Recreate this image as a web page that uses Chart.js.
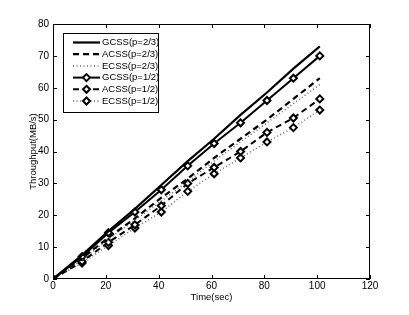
<!DOCTYPE html>
<html>
<head>
<meta charset="utf-8">
<script src="https://cdn.jsdelivr.net/npm/chart.js@4/dist/chart.umd.min.js"></script>
<style>
  html, body { margin: 0; padding: 0; background: #fff; }
  #wrap { width: 409px; height: 315px; }
</style>
</head>
<body>
<div id="wrap"><canvas id="chart" width="409" height="315"></canvas></div>
<script>
// Sample times (sec)
const times = [0, 11, 21, 31, 41, 51, 61, 71, 81, 91, 101];

// Throughput (MB/s) per scheme
const gcss23 = [0, 7.5, 15, 22, 29.5, 37, 44, 51.5, 58.5, 66, 73];
const acss23 = [0, 6.5, 13, 19, 25.5, 31.5, 38, 44, 50, 56.5, 63];
const ecss23 = [0, 6, 12.5, 18.5, 24.5, 30.5, 37, 43, 49, 55, 61];
const gcss12 = [0, 7, 14.5, 21, 28, 35.5, 42.5, 49, 56, 63, 70];
const acss12 = [0, 5.5, 11.5, 17, 23, 30, 35, 40, 46, 50.5, 56.5];
const ecss12 = [0, 5, 10.5, 16, 21, 27.5, 33, 38, 43, 47.5, 53];

const labels = ['GCSS(p=2/3)', 'ACSS(p=2/3)', 'ECSS(p=2/3)', 'GCSS(p=1/2)', 'ACSS(p=1/2)', 'ECSS(p=1/2)'];

const FONT = 'Liberation Sans, Arial, Helvetica, sans-serif';

function toPoints(values) {
    return values.map((v, i) => ({ x: times[i], y: v }));
}

const SOLID = [];
const DASHED = [6, 4];
const DOTTED = [1, 2.5];

function makeSet(label, values, dash, width, color, marker) {
    return {
        label: label,
        data: toPoints(values),
        borderColor: color,
        borderWidth: width,
        borderDash: dash,
        pointStyle: 'rectRot',
        pointRadius: marker ? 3.5 : 0,
        pointBackgroundColor: '#fff',
        pointBorderColor: '#000',
        pointBorderWidth: 2,
        tension: 0,
        fill: false
    };
}

const datasets = [
    makeSet(labels[0], gcss23, SOLID, 2.2, '#000', false),
    makeSet(labels[1], acss23, DASHED, 2.2, '#000', false),
    makeSet(labels[2], ecss23, DOTTED, 1.5, '#666', false),
    makeSet(labels[3], gcss12, SOLID, 2, '#000', true),
    makeSet(labels[4], acss12, DASHED, 2, '#000', true),
    makeSet(labels[5], ecss12, DOTTED, 1.5, '#666', true)
];

// Box with inward ticks on all four sides (MATLAB style)
const frame = {
    id: 'frame',
    afterDraw(chart) {
        const { ctx, chartArea: a, scales } = chart;
        ctx.save();
        ctx.strokeStyle = '#000';
        ctx.lineWidth = 1;
        ctx.setLineDash([]);
        ctx.strokeRect(a.left + 0.5, a.top + 0.5, a.right - a.left - 1, a.bottom - a.top - 1);
        const len = 4;
        ctx.beginPath();
        scales.x.ticks.forEach(t => {
            const px = Math.round(scales.x.getPixelForValue(t.value)) + 0.5;
            ctx.moveTo(px, a.bottom); ctx.lineTo(px, a.bottom - len);
            ctx.moveTo(px, a.top); ctx.lineTo(px, a.top + len);
        });
        scales.y.ticks.forEach(t => {
            const py = Math.round(scales.y.getPixelForValue(t.value)) + 0.5;
            ctx.moveTo(a.left, py); ctx.lineTo(a.left + len, py);
            ctx.moveTo(a.right, py); ctx.lineTo(a.right - len, py);
        });
        ctx.stroke();
        ctx.restore();
    }
};

// Legend box in the upper left of the plot
const boxLegend = {
    id: 'boxLegend',
    afterDraw(chart) {
        const { ctx, chartArea: a } = chart;
        const x0 = a.left + 10, y0 = a.top + 9;
        const w = 95, rowH = 11.7, h = 79;
        ctx.save();
        ctx.fillStyle = '#fff';
        ctx.fillRect(x0, y0, w, h);
        ctx.strokeStyle = '#000';
        ctx.lineWidth = 1;
        ctx.setLineDash([]);
        ctx.strokeRect(x0 + 0.5, y0 + 0.5, w, h);
        chart.data.datasets.forEach((ds, i) => {
            const cy = y0 + 9.5 + i * rowH;
            const lx1 = x0 + 10, lx2 = x0 + 37;
            ctx.strokeStyle = ds.borderColor;
            ctx.lineWidth = ds.borderWidth;
            ctx.setLineDash(ds.borderDash);
            ctx.beginPath();
            ctx.moveTo(lx1, cy); ctx.lineTo(lx2, cy);
            ctx.stroke();
            if (ds.pointRadius > 0) {
                ctx.setLineDash([]);
                ctx.lineWidth = 2;
                ctx.strokeStyle = '#000';
                ctx.fillStyle = '#fff';
                const mx = (lx1 + lx2) / 2, r = 3.5;
                ctx.beginPath();
                ctx.moveTo(mx, cy - r); ctx.lineTo(mx + r, cy);
                ctx.lineTo(mx, cy + r); ctx.lineTo(mx - r, cy);
                ctx.closePath();
                ctx.fill(); ctx.stroke();
            }
            ctx.fillStyle = '#000';
            ctx.font = '9.5px ' + FONT;
            ctx.textBaseline = 'middle';
            ctx.fillText(ds.label, lx2 + 2, cy);
        });
        ctx.restore();
    }
};

new Chart(document.getElementById('chart').getContext('2d'), {
    type: 'line',
    data: { datasets: datasets },
    options: {
        responsive: false,
        animation: false,
        layout: { padding: { left: 27.5, right: 39, top: 24, bottom: 12 } },
        plugins: {
            legend: { display: false },
            tooltip: { enabled: false }
        },
        scales: {
            x: {
                type: 'linear',
                min: 0,
                max: 120,
                ticks: { stepSize: 20, color: '#000', font: { family: FONT, size: 10 }, padding: 1 },
                grid: { display: false, drawTicks: false },
                border: { display: false },
                title: { display: true, text: 'Time(sec)', color: '#000', font: { family: FONT, size: 9.5 }, padding: { top: 0, bottom: 0 } },
                afterFit(scale) { scale.height = 24; }
            },
            y: {
                min: 0,
                max: 80,
                ticks: { stepSize: 10, color: '#000', font: { family: FONT, size: 10 }, padding: 4 },
                grid: { display: false, drawTicks: false },
                border: { display: false },
                title: { display: true, text: 'Throughput(MB/s)', color: '#000', font: { family: FONT, size: 9.5 }, padding: { top: 0, bottom: 0 } },
                afterFit(scale) { scale.width = 25.5; }
            }
        }
    },
    plugins: [frame, boxLegend]
});
</script>
</body>
</html>
